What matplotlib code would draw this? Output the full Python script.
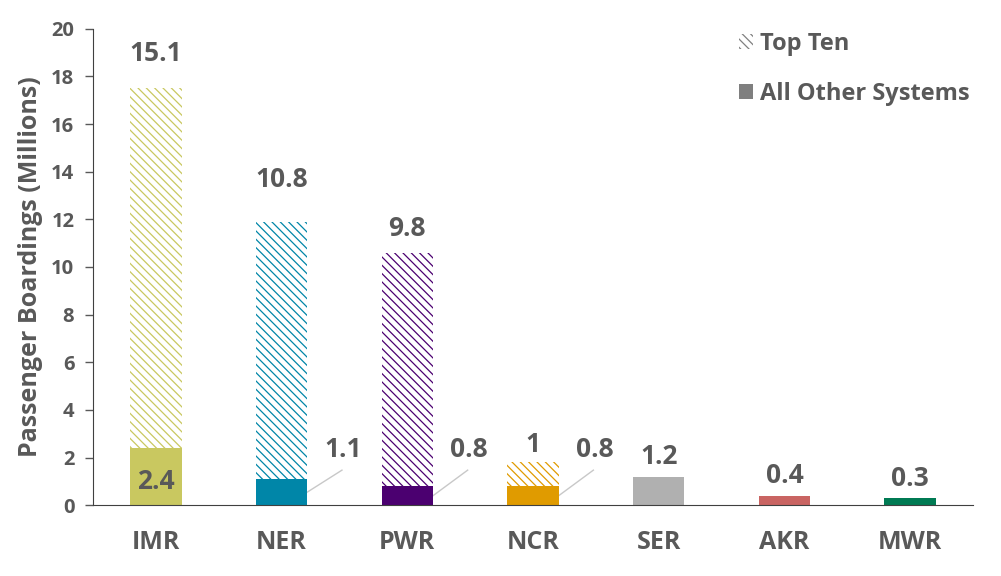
import numpy as np
import matplotlib
matplotlib.use("Agg")
import matplotlib.pyplot as plt
from matplotlib.patches import Patch

plt.rcParams['font.family'] = ['Open Sans', 'DejaVu Sans']
plt.rcParams['font.weight'] = 'bold'
plt.rcParams['hatch.linewidth'] = 0.9

# data
regions = ['IMR', 'NER', 'PWR', 'NCR', 'SER', 'AKR', 'MWR']
other = [2.4, 1.1, 0.8, 0.8, 1.2, 0.4, 0.3]
top_ten = [15.1, 10.8, 9.8, 1.0, 0, 0, 0]
labels_top = ['15.1', '10.8', '9.8', '1']
labels_other = ['2.4', '1.1', '0.8', '0.8', '1.2', '0.4', '0.3']
colors = ['#C9C860', '#0086A8', '#4B0070', '#E09B00', '#B0B0B0', '#C96462', '#007A53']

txt = '#595959'
hatch = '\\\\\\\\'

fig = plt.figure(figsize=(10.01, 5.76), dpi=100)
ax = fig.add_axes([0.093, 0.123, 0.879, 0.827])

x = np.arange(len(regions))
w = 0.41

# solid bottom segments
ax.bar(x, other, width=w, color=colors, linewidth=0, zorder=2)
# hatched top ten segments
for i in range(len(regions)):
    if top_ten[i] > 0:
        ax.bar(x[i], top_ten[i], bottom=other[i], width=w, facecolor='white',
               edgecolor=colors[i], hatch=hatch, linewidth=0, zorder=2)

# top ten labels (offset in pixels above the bar)
top_off = [35, 42, 24, 18]
for i, lab in enumerate(labels_top):
    ax.annotate(lab, (x[i], other[i] + top_ten[i]), xytext=(0, top_off[i]),
                textcoords='offset pixels', ha='center', va='center',
                fontsize=19, color=txt, fontweight='bold')

# other labels
# IMR inside
ax.text(x[0], 1.0, labels_other[0], ha='center', va='center',
        fontsize=19, color=txt, fontweight='bold')
# NER, PWR, NCR with leader lines
for i in [1, 2, 3]:
    y0 = other[i] / 2
    x0 = x[i] + w / 2
    x1 = x[i] + 0.48
    y1 = 1.47
    ax.plot([x0, x1], [y0, y1], color='#C8C8C8', linewidth=1, zorder=1)
    ax.text(x[i] + 0.49, 2.35, labels_other[i], ha='center', va='center',
            fontsize=19, color=txt, fontweight='bold')
# SER, AKR, MWR above
for i in [4, 5, 6]:
    ax.annotate(labels_other[i], (x[i], other[i]), xytext=(0, 20),
                textcoords='offset pixels', ha='center', va='center',
                fontsize=19, color=txt, fontweight='bold')

ax.set_xlim(-0.5, 6.5)
ax.set_ylim(0, 20)
ax.set_yticks(np.arange(0, 21, 2))
ax.set_xticks(x)
ax.set_xticklabels(regions)
ax.tick_params(axis='x', length=0, pad=18, labelsize=18, labelcolor=txt)
ax.tick_params(axis='y', length=5.5, width=1, color='#595959', labelsize=14.5,
               labelcolor=txt, pad=8)
for lab in ax.get_xticklabels() + ax.get_yticklabels():
    lab.set_fontweight('bold')
ax.spines['top'].set_visible(False)
ax.spines['right'].set_visible(False)
ax.spines['left'].set_color('#404040')
ax.spines['bottom'].set_color('#404040')
ax.set_ylabel('Passenger Boardings (Millions)', fontsize=18, color=txt,
              fontweight='bold', labelpad=6)

handles = [Patch(facecolor='white', edgecolor='#808080', hatch=hatch, linewidth=0),
           Patch(facecolor='#7F7F7F', linewidth=0)]
leg = ax.legend(handles, ['Top Ten', 'All Other Systems'], loc='upper left',
                bbox_to_anchor=(0.717, 0.982), bbox_transform=fig.transFigure,
                frameon=False, fontsize=17, labelcolor=txt, handlelength=0.6,
                handleheight=0.6, handletextpad=0.3, labelspacing=1.1)
for t in leg.get_texts():
    t.set_fontweight('bold')

fig.savefig('out.png', dpi=100)
